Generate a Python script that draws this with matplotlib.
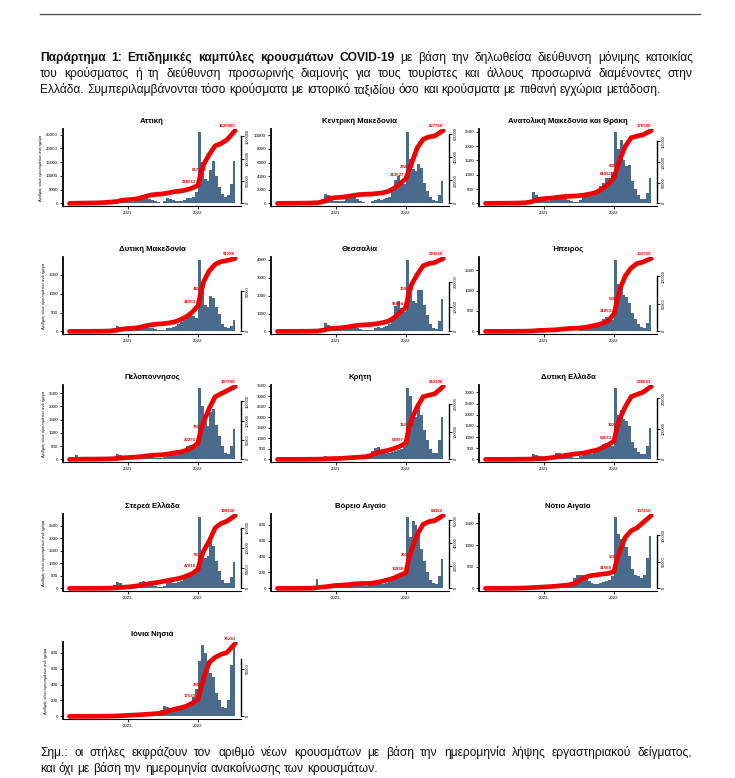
import datetime as dt
import numpy as np
import matplotlib
matplotlib.use("Agg")
import matplotlib.pyplot as plt
import matplotlib.dates as mdates
import matplotlib.ticker as mticker
from matplotlib import font_manager
from matplotlib.ft2font import FT2Font

W, H, DPI = 735, 778, 100

# ---------------- data ----------------
regions = ["Αττική", "Κεντρική Μακεδονία", "Ανατολική Μακεδονία και Θράκη",
           "Δυτική Μακεδονία", "Θεσσαλία", "Ήπειρος",
           "Πελοπόννησος", "Κρήτη", "Δυτική Ελλάδα",
           "Στερεά Ελλάδα", "Βόρειο Αιγαίο", "Νότιο Αιγαίο",
           "Ιόνια Νησιά"]

# half-month periods for the daily-case bars, 2020-03-01 ... 2022-07-01
period_starts = [dt.date(y, m, d) for y in (2020, 2021, 2022) for m in range(1, 13)
                 for d in (1, 16) if dt.date(2020, 3, 1) <= dt.date(y, m, d) <= dt.date(2022, 7, 1)]
period_end = dt.date(2022, 7, 16)

attiki = [20, 60, 40, 20, 10, 10, 10, 20, 40, 60, 150, 200, 250, 300, 400, 600, 1100, 900, 500, 400,
          350, 400, 700, 1200, 1800, 2000, 2200, 1600, 1100, 700, 450, 300,
          800, 1800, 1500, 1100, 900, 800, 900, 1300, 1800, 2000, 2400, 4000,
          26000, 15000, 9000, 8000, 12000, 15500, 10000, 6000, 3500, 2500, 3000, 7000, 15500]
kentriki_makedonia = [10, 40, 30, 20, 10, 5, 5, 10, 20, 40, 80, 120, 150, 180, 300, 600, 1400, 1300, 700, 400,
                      300, 300, 400, 600, 800, 1000, 900, 700, 400, 250, 120, 100,
                      300, 500, 600, 500, 600, 800, 1000, 1800, 3500, 4000, 3200, 2800,
                      10500, 6500, 5000, 4800, 5800, 5200, 3000, 1800, 900, 500, 400, 1200, 3300]
anatoliki_makedonia = [5, 10, 10, 5, 5, 5, 5, 5, 10, 10, 20, 30, 30, 40, 60, 120, 400, 300, 200, 150,
                       120, 100, 150, 200, 250, 200, 180, 150, 120, 80, 50, 50,
                       120, 250, 300, 250, 250, 300, 400, 600, 700, 900, 900, 1100,
                       2500, 1900, 2200, 1500, 1300, 1350, 800, 500, 300, 150, 150, 350, 900]
dytiki_makedonia = [2, 5, 5, 2, 2, 2, 2, 2, 5, 5, 10, 15, 20, 30, 60, 100, 150, 120, 80, 60,
                    60, 60, 80, 120, 150, 150, 130, 100, 80, 60, 40, 30,
                    50, 80, 100, 120, 150, 200, 250, 300, 400, 450, 400, 350,
                    1900, 1200, 700, 650, 950, 900, 650, 450, 200, 120, 100, 150, 300]
thessalia = [2, 5, 5, 3, 2, 2, 2, 3, 5, 10, 20, 30, 40, 50, 100, 200, 450, 350, 200, 150,
             150, 150, 200, 250, 300, 300, 250, 200, 150, 100, 80, 60,
             100, 200, 250, 200, 250, 300, 400, 700, 1400, 1700, 1300, 1100,
             4000, 2200, 1700, 1600, 2300, 2300, 1500, 900, 400, 200, 150, 600, 1800]
ipeiros = [1, 2, 2, 1, 1, 1, 1, 1, 2, 3, 5, 8, 10, 12, 20, 30, 60, 50, 40, 30,
           30, 30, 40, 50, 60, 60, 50, 40, 30, 20, 15, 15,
           40, 90, 100, 80, 90, 100, 150, 200, 300, 350, 300, 280,
           1750, 1150, 1200, 900, 850, 700, 450, 300, 180, 100, 80, 200, 650]
peloponnisos = [5, 30, 150, 40, 10, 5, 5, 5, 10, 10, 20, 30, 30, 40, 60, 100, 200, 180, 120, 80,
                70, 70, 90, 120, 150, 160, 150, 120, 100, 70, 50, 40,
                80, 150, 200, 200, 200, 250, 300, 400, 500, 550, 500, 550,
                2700, 2000, 1400, 1250, 1800, 1900, 1300, 900, 500, 250, 200, 500, 1150]
kriti = [2, 5, 5, 3, 2, 2, 2, 3, 5, 10, 20, 30, 30, 40, 60, 80, 150, 130, 100, 80,
         80, 80, 100, 120, 150, 150, 140, 120, 100, 100, 120, 200,
         400, 550, 600, 450, 350, 300, 300, 350, 400, 450, 500, 650,
         3400, 3000, 2200, 2000, 2700, 2100, 1400, 900, 500, 300, 300, 900, 2000]
dytiki_ellada = [2, 10, 10, 5, 2, 2, 2, 3, 5, 10, 20, 30, 40, 50, 80, 120, 250, 200, 150, 100,
                 100, 100, 150, 200, 300, 300, 250, 200, 150, 100, 70, 60,
                 150, 300, 350, 250, 250, 300, 400, 500, 700, 750, 600, 600,
                 3200, 2000, 2200, 1800, 1700, 1500, 800, 500, 350, 250, 250, 600, 1400]
sterea_ellada = [2, 5, 5, 3, 2, 2, 2, 3, 5, 10, 20, 30, 40, 50, 80, 120, 250, 200, 150, 100,
                 100, 100, 130, 180, 250, 280, 250, 200, 150, 100, 60, 50,
                 100, 200, 250, 200, 200, 250, 300, 400, 500, 600, 550, 650,
                 2850, 1500, 1200, 1300, 1900, 1700, 1100, 700, 350, 200, 200, 450, 1050]
voreio_aigaio = [1, 2, 2, 1, 1, 1, 1, 1, 2, 3, 5, 10, 20, 120, 30, 20, 40, 40, 30, 25,
                 25, 25, 30, 40, 50, 50, 45, 40, 35, 30, 30, 40,
                 60, 80, 80, 60, 60, 70, 90, 110, 140, 160, 150, 180,
                 900, 650, 850, 800, 700, 500, 350, 200, 100, 70, 60, 150, 370]
notio_aigaio = [1, 3, 3, 2, 1, 1, 1, 2, 5, 8, 15, 25, 30, 30, 40, 50, 60, 50, 40, 30,
                30, 30, 40, 50, 60, 70, 70, 80, 100, 150, 250, 300,
                320, 300, 250, 180, 130, 100, 100, 120, 150, 180, 200, 280,
                1650, 1250, 1150, 1200, 950, 750, 450, 300, 280, 250, 300, 700, 1200]
ionia_nisia = [1, 2, 2, 1, 1, 1, 1, 1, 2, 3, 5, 8, 10, 10, 15, 20, 30, 25, 20, 15,
               15, 15, 20, 25, 30, 30, 30, 30, 30, 40, 50, 80,
               130, 120, 100, 80, 80, 90, 100, 120, 150, 170, 250, 350,
               700, 900, 800, 650, 550, 500, 300, 200, 120, 100, 200, 650, 900]

daily_cases = [attiki, kentriki_makedonia, anatoliki_makedonia, dytiki_makedonia, thessalia,
               ipeiros, peloponnisos, kriti, dytiki_ellada, sterea_ellada, voreio_aigaio,
               notio_aigaio, ionia_nisia]
left_tick_step = [5000, 2000, 500, 500, 1000, 500, 500, 500, 500, 500, 200, 500, 200]

# cumulative cases (thousands) for the red line: 1st of each month Mar 2020 .. Jun 2022,
# with 16 Jan 2022 inserted and the last point on 15 Jul 2022
cum_dates = ([dt.date(y, m, 1) for y in (2020, 2021, 2022) for m in range(1, 13)
              if dt.date(2020, 3, 1) <= dt.date(y, m, 1) <= dt.date(2022, 6, 1)])
cum_dates.insert(cum_dates.index(dt.date(2022, 2, 1)), dt.date(2022, 1, 16))
cum_dates.append(dt.date(2022, 7, 15))

cum_attiki = [0, 3.3, 6.5, 8.1, 9.8, 13.0, 19.5, 29.3, 40.7, 68.3, 81.4, 92.7, 113.9, 154.6, 187.1,
              203.4, 211.5, 235.9, 260.3, 276.6, 301.0, 341.7, 398.612, 667.143, 878.6, 1090.1,
              1285.3, 1334.1, 1415.5, 1626.985]
cum_kentriki = [0, 0.6, 1.3, 1.3, 1.9, 2.5, 3.8, 6.3, 18.8, 44.0, 50.2, 53.4, 59.7, 69.1, 75.4,
                78.5, 79.8, 84.8, 91.1, 103.6, 131.9, 169.6, 213.527, 282.614, 351.7, 477.3,
                552.6, 571.5, 580.9, 627.718]
cum_anatoliki = [0, 0.2, 0.4, 0.4, 0.5, 0.7, 1.1, 1.8, 4.4, 9.7, 11.5, 12.4, 14.2, 15.9, 16.8,
                 17.7, 18.6, 20.4, 23.0, 26.6, 35.4, 46.0, 61.961, 83.047, 106.0, 138.0,
                 159.0, 163.0, 166.0, 176.590]
cum_dytiki_mak = [0, 0.05, 0.09, 0.09, 0.14, 0.18, 0.27, 0.55, 1.4, 2.7, 3.7, 4.1, 5.0, 6.8, 8.2,
                  9.1, 9.6, 10.5, 11.9, 14.6, 18.3, 23.7, 31.953, 48.384, 63.0, 75.8,
                  84.0, 87.2, 88.6, 91.289]
cum_thessalia = [0, 0.15, 0.3, 0.3, 0.44, 0.59, 0.88, 1.8, 5.9, 11.7, 13.2, 14.7, 17.6, 22.0, 25.0,
                 26.4, 27.9, 30.8, 35.2, 41.1, 55.8, 76.4, 96.904, 155.672, 190.9, 229.0,
                 264.3, 273.1, 277.5, 293.650]
cum_ipeiros = [0, 0.04, 0.08, 0.11, 0.13, 0.2, 0.27, 0.4, 0.8, 1.6, 2.0, 2.4, 2.9, 4.0, 5.0,
               5.6, 6.0, 7.3, 9.3, 11.3, 14.6, 18.6, 31.853, 53.095, 77.0, 100.9,
               115.5, 123.4, 126.1, 132.739]
cum_peloponnisos = [0, 0.19, 0.56, 0.75, 0.75, 0.94, 1.1, 1.5, 2.3, 3.8, 4.7, 5.6, 6.6, 8.5, 10.3,
                    11.3, 12.2, 14.1, 16.9, 18.8, 23.5, 30.0, 42.255, 75.119, 97.7, 131.5,
                    161.5, 169.0, 176.5, 187.799]
cum_kriti = [0, 0.08, 0.16, 0.21, 0.26, 0.39, 0.52, 0.79, 1.6, 2.6, 3.1, 3.9, 5.2, 6.6, 7.9,
             9.2, 14.4, 23.6, 28.8, 32.8, 39.3, 47.2, 58.997, 112.749, 146.8, 188.8,
             225.5, 230.7, 236.0, 262.208]
cum_dytiki_ellada = [0, 0.07, 0.14, 0.19, 0.24, 0.36, 0.48, 0.72, 1.4, 2.4, 2.9, 4.8, 7.2, 10.7, 14.3,
                     16.7, 19.1, 21.5, 26.3, 29.8, 38.2, 47.7, 59.673, 102.638, 133.7, 171.9,
                     205.3, 212.4, 219.6, 238.693]
cum_sterea = [0, 0.05, 0.11, 0.14, 0.18, 0.27, 0.36, 0.54, 1.4, 2.7, 3.6, 5.1, 7.2, 9.9, 12.7,
              14.5, 17.2, 19.9, 22.6, 25.3, 30.7, 36.2, 47.016, 74.140, 94.0, 117.5,
              150.1, 160.9, 166.4, 180.830]
cum_voreio = [0, 0.02, 0.04, 0.05, 0.06, 0.1, 0.19, 0.97, 1.3, 1.9, 2.6, 2.9, 3.2, 3.9, 4.2,
              4.4, 4.5, 5.2, 6.4, 7.7, 9.3, 11.6, 13.838, 26.388, 34.8, 47.6,
              56.6, 58.9, 59.9, 64.362]
cum_notio = [0, 0.04, 0.08, 0.11, 0.14, 0.27, 0.55, 0.82, 1.4, 2.1, 2.7, 3.4, 4.1, 5.2, 6.2,
             8.2, 13.7, 20.6, 24.0, 25.4, 26.8, 28.1, 31.560, 52.829, 71.3, 96.0,
             108.4, 113.9, 123.5, 137.218]
cum_ionia = [0, 0.02, 0.05, 0.06, 0.08, 0.15, 0.23, 0.3, 0.46, 0.76, 1.1, 1.4, 1.7, 2.1, 2.5,
             3.0, 3.8, 5.7, 7.6, 8.8, 10.7, 13.7, 17.533, 28.962, 41.1, 56.4,
             61.7, 64.8, 66.7, 76.230]

cumulative_thousands = [cum_attiki, cum_kentriki, cum_anatoliki, cum_dytiki_mak, cum_thessalia,
                        cum_ipeiros, cum_peloponnisos, cum_kriti, cum_dytiki_ellada, cum_sterea,
                        cum_voreio, cum_notio, cum_ionia]

header_text = [
    "Παράρτημα 1: Επιδημικές καμπύλες κρουσμάτων COVID-19 με βάση την δηλωθείσα διεύθυνση μόνιμης κατοικίας",
    "του κρούσματος ή τη διεύθυνση προσωρινής διαμονής για τους τουρίστες και άλλους προσωρινά διαμένοντες στην",
    "Ελλάδα. Συμπεριλαμβάνονται τόσο κρούσματα με ιστορικό ταξιδίου όσο και κρούσματα με πιθανή εγχώρια μετάδοση.",
]
header_bold_words = 6
footnote_text = [
    "Σημ.: οι στήλες εκφράζουν τον αριθμό νέων κρουσμάτων με βάση την ημερομηνία λήψης εργαστηριακού δείγματος,",
    "και όχι με βάση την ημερομηνία ανακοίνωσης των κρουσμάτων.",
]
ylabel_text = "Αριθμός νέων κρουσμάτων ανά ημέρα"

# ---------------- style ----------------
BAR = "#4a6b8b"
RED = "#f00000"


def font_covers(name, text):
    try:
        path = font_manager.findfont(font_manager.FontProperties(family=name),
                                     fallback_to_default=False)
        cmap = FT2Font(path).get_charmap()
        return all(ord(ch) in cmap for ch in set(text) if not ch.isspace())
    except Exception:
        return False


all_text = "".join(header_text + footnote_text)
BODY = "Liberation Sans Narrow" if font_covers("Liberation Sans Narrow", all_text) else "Liberation Sans"
FAM = [BODY, "Liberation Sans", "DejaVu Sans"]
SMALL = ["Liberation Sans", "DejaVu Sans"]
plt.rcParams["font.family"] = SMALL

fig = plt.figure(figsize=(W / DPI, H / DPI), dpi=DPI)
fig.patch.set_facecolor("white")
renderer = fig.canvas.get_renderer()

# top rule
fig.add_artist(plt.Line2D([40 / W, 700 / W], [1 - 14 / H, 1 - 14 / H], color="#555555", lw=1.0))


def word_width(word, weight, size):
    t = fig.text(0, 0, word, fontsize=size, family=FAM, weight=weight)
    w = t.get_window_extent(renderer).width
    t.remove()
    return w


def place_line(words, baseline, size, x0=40, x1=None):
    widths = [word_width(w, wt, size) for w, wt in words]
    space = word_width("a a", "normal", size) - word_width("aa", "normal", size)
    gap = space if x1 is None else (x1 - x0 - sum(widths)) / (len(words) - 1)
    x = x0
    for (w, wt), wd in zip(words, widths):
        fig.text(x / W, 1 - baseline / H, w, fontsize=size, family=FAM, weight=wt,
                 va="baseline", ha="left", color="#111111")
        x += wd + gap


def tokens(line, n_bold=0):
    return [(w, "bold" if i < n_bold else "normal") for i, w in enumerate(line.split())]


# fit font size so that the (natural) third header line spans ~623 px
probe = 10.0
l3 = tokens(header_text[2])
sp = word_width("a a", "normal", probe) - word_width("aa", "normal", probe)
nat = sum(word_width(w, wt, probe) for w, wt in l3) + sp * (len(l3) - 1)
fs = probe * 623.0 / nat

place_line(tokens(header_text[0], header_bold_words), 61, fs, 40, 693)
place_line(tokens(header_text[1]), 77, fs, 40, 693)
place_line(tokens(header_text[2]), 93, fs)
place_line(tokens(footnote_text[0]), 756, fs, 40, 692)
place_line(tokens(footnote_text[1]), 772, fs)

# ---------------- panels ----------------
col_left = [63, 271, 479]
row_base = [206, 334, 462, 591, 719]
AX_W, AX_H = 178, 77

edges = period_starts + [period_end]
widths_days = np.array([(edges[i + 1] - edges[i]).days for i in range(len(period_starts))])
bar_x = [mdates.date2num(d) for d in period_starts]
line_x = [mdates.date2num(d) for d in cum_dates]
i_2022 = cum_dates.index(dt.date(2022, 1, 1))
i_jan16 = cum_dates.index(dt.date(2022, 1, 16))

for k, (name, vals, cumk) in enumerate(zip(regions, daily_cases, cumulative_thousands)):
    r, c = divmod(k, 3)
    ax = fig.add_axes([col_left[c] / W, 1 - row_base[r] / H, AX_W / W, AX_H / H])
    vals = np.array(vals, dtype=float)
    ax.bar(bar_x, vals, width=widths_days, align="edge", color=BAR, linewidth=0, zorder=2)
    ax.set_xlim(mdates.date2num(dt.date(2020, 1, 27)), mdates.date2num(dt.date(2022, 8, 14)))
    top = vals.max() * 1.04
    ax.set_ylim(-0.035 * top, top)
    ax.yaxis.set_major_locator(mticker.MultipleLocator(left_tick_step[k]))
    ax.yaxis.set_major_formatter(mticker.FuncFormatter(lambda v, p: f"{int(v)}"))
    ax.xaxis.set_major_locator(mdates.YearLocator())
    ax.xaxis.set_major_formatter(mdates.DateFormatter("%Y"))
    ax.set_title(name, fontsize=5.6, fontweight="bold", pad=4, family=SMALL)
    for s in ("top", "right"):
        ax.spines[s].set_visible(False)
    ax.spines["left"].set_linewidth(1.3)
    ax.spines["bottom"].set_linewidth(0.8)
    ax.tick_params(axis="both", labelsize=3.2, length=2, width=0.6, pad=1.5)
    if c == 0:
        ax.set_ylabel(ylabel_text, fontsize=2.8, labelpad=2)

    ax2 = ax.twinx()
    cum = np.array(cumk) * 1000.0
    ax2.plot(line_x, cum, color=RED, lw=3.4, solid_capstyle="round", solid_joinstyle="round", zorder=5)
    ctop = cum[-1] * 1.02
    ax2.set_ylim(-0.035 * ctop, ctop)
    loc = mticker.MaxNLocator(nbins=4, steps=[1, 2, 5, 10])
    ax2.yaxis.set_major_locator(loc)
    ticks = [t for t in loc.tick_values(0, ctop) if 0 <= t <= ctop]
    ax2.spines["right"].set_bounds(0, ticks[-1])
    ax2.spines["right"].set_linewidth(1.0)
    for s in ("top", "left", "bottom"):
        ax2.spines[s].set_visible(False)
    ax2.yaxis.set_major_formatter(mticker.FuncFormatter(lambda v, p: f"{int(v)}"))
    ax2.tick_params(axis="y", labelsize=2.8, length=2, width=0.6, pad=1.5)
    for lab in ax2.get_yticklabels():
        lab.set_rotation(90)
        lab.set_va("center")

    lab_kw = dict(textcoords="offset points", color=RED, fontsize=3.2, fontweight="bold")
    ax2.annotate(f"{int(round(cum[i_2022]))}", (line_x[i_2022], cum[i_2022]), xytext=(-1.5, 1),
                 ha="right", va="bottom", **lab_kw)
    ax2.annotate(f"{int(round(cum[i_jan16]))}", (line_x[i_jan16], cum[i_jan16]), xytext=(-1.5, 1),
                 ha="center", va="bottom", **lab_kw)
    ax2.annotate(f"{int(round(cum[-1]))}", (line_x[-1], cum[-1]), xytext=(0, 1.5),
                 ha="right", va="bottom", **lab_kw)

fig.savefig("out.png", dpi=DPI, facecolor="white")
